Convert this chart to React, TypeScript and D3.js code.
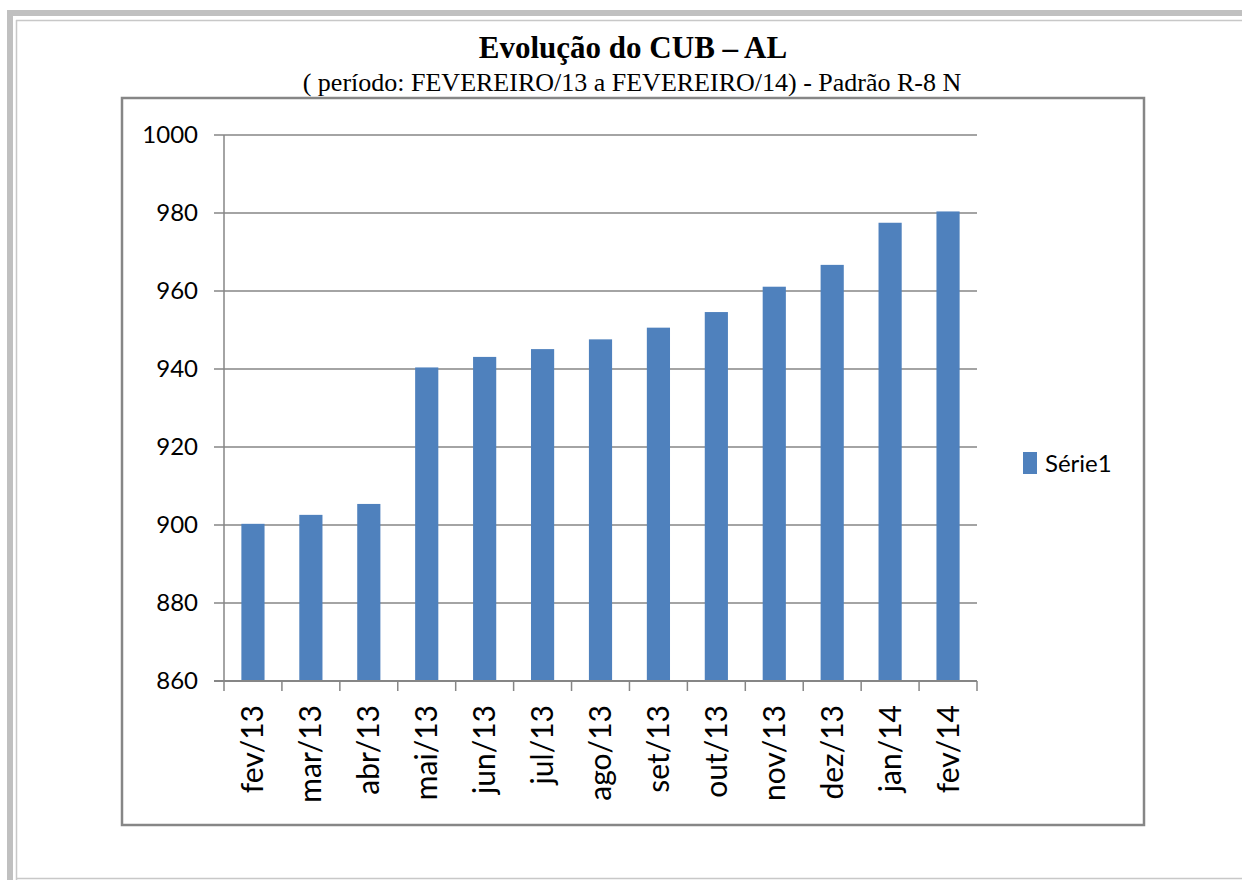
import { useEffect, useRef } from "react";
import * as d3 from "d3";

const categories = ["fev/13", "mar/13", "abr/13", "mai/13", "jun/13", "jul/13", "ago/13", "set/13", "out/13", "nov/13", "dez/13", "jan/14", "fev/14"];
const values = [900.3, 902.6, 905.4, 940.4, 943.1, 945.1, 947.6, 950.6, 954.6, 961.1, 966.7, 977.5, 980.4];
const yTicks = [860, 880, 900, 920, 940, 960, 980, 1000];
const seriesName = "Série1";

const App = () => {
  const ref = useRef<SVGSVGElement>(null);

  useEffect(() => {
    const width = 1242, height = 880;
    const svg = d3.select(ref.current)
      .html("")
      .attr("width", width)
      .attr("height", height);

    svg.append("rect").attr("width", width).attr("height", height).attr("fill", "#fff");

    // page frame
    svg.append("rect").attr("x", 7).attr("y", 10).attr("width", width - 7).attr("height", 6).attr("fill", "#c0c0c0");
    svg.append("rect").attr("x", 7).attr("y", 10).attr("width", 6).attr("height", height - 10).attr("fill", "#c0c0c0");
    svg.append("line").attr("x1", 16).attr("y1", 20.5).attr("x2", width).attr("y2", 20.5).attr("stroke", "#c8c8c8").attr("stroke-width", 1.5);
    svg.append("line").attr("x1", 16.5).attr("y1", 20).attr("x2", 16.5).attr("y2", height).attr("stroke", "#c8c8c8").attr("stroke-width", 1.5);
    svg.append("line").attr("x1", 16).attr("y1", 878.5).attr("x2", width).attr("y2", 878.5).attr("stroke", "#c8c8c8").attr("stroke-width", 1.5);

    // title
    svg.append("text")
      .attr("x", 633).attr("y", 58)
      .attr("text-anchor", "middle")
      .style("font-family", "'Liberation Serif', 'Times New Roman', serif")
      .style("font-size", "31px")
      .style("font-weight", "bold")
      .text("Evolução do CUB – AL");
    svg.append("text")
      .attr("x", 632).attr("y", 91)
      .attr("text-anchor", "middle")
      .style("font-family", "'Liberation Serif', 'Times New Roman', serif")
      .style("font-size", "26px")
      .text("( período: FEVEREIRO/13 a FEVEREIRO/14) - Padrão R-8 N");

    // chart box
    svg.append("rect")
      .attr("x", 122).attr("y", 98)
      .attr("width", 1022).attr("height", 727)
      .attr("fill", "none")
      .attr("stroke", "#868686")
      .attr("stroke-width", 2.5);

    const left = 224, right = 977, top = 135, bottom = 681;

    const x = d3.scaleBand().domain(categories).range([left, right]);
    const y = d3.scaleLinear().domain([860, 1000]).range([bottom, top]);

    const font = "Lato, 'Open Sans', sans-serif";

    // gridlines + y ticks
    svg.append("g")
      .selectAll("line")
      .data(yTicks)
      .enter()
      .append("line")
      .attr("x1", left - 10)
      .attr("x2", right)
      .attr("y1", d => y(d))
      .attr("y2", d => y(d))
      .attr("stroke", "#868686")
      .attr("stroke-width", 1.5);

    svg.append("g")
      .selectAll("text")
      .data(yTicks)
      .enter()
      .append("text")
      .attr("x", 198)
      .attr("y", d => y(d))
      .attr("dy", "0.35em")
      .attr("text-anchor", "end")
      .style("font-family", font)
      .style("font-size", "24px")
      .text(d => d);

    // bars
    const bw = x.bandwidth() * 0.4;
    svg.append("g")
      .selectAll("rect")
      .data(values)
      .enter()
      .append("rect")
      .attr("x", (d, i) => x(categories[i])! + (x.bandwidth() - bw) / 2)
      .attr("y", d => y(d))
      .attr("width", bw)
      .attr("height", d => bottom - y(d))
      .attr("fill", "#4f81bd");

    // axes
    svg.append("line")
      .attr("x1", left).attr("x2", left)
      .attr("y1", top).attr("y2", bottom)
      .attr("stroke", "#868686").attr("stroke-width", 1.5);
    svg.append("line")
      .attr("x1", left - 10).attr("x2", right)
      .attr("y1", bottom).attr("y2", bottom)
      .attr("stroke", "#868686").attr("stroke-width", 2);

    const xTicks = categories.map(c => x(c)!).concat([right]);
    svg.append("g")
      .selectAll("line")
      .data(xTicks)
      .enter()
      .append("line")
      .attr("x1", d => d).attr("x2", d => d)
      .attr("y1", bottom).attr("y2", bottom + 10)
      .attr("stroke", "#868686")
      .attr("stroke-width", 1.5);

    svg.append("g")
      .selectAll("text")
      .data(categories)
      .enter()
      .append("text")
      .attr("transform", d => `translate(${x(d)! + x.bandwidth() / 2}, 705) rotate(-90)`)
      .attr("dy", "0.35em")
      .attr("text-anchor", "end")
      .style("font-family", font)
      .style("font-size", "30px")
      .text(d => d);

    // legend
    svg.append("rect")
      .attr("x", 1023).attr("y", 452)
      .attr("width", 14).attr("height", 22)
      .attr("fill", "#4f81bd");
    svg.append("text")
      .attr("x", 1045).attr("y", 472)
      .style("font-family", font)
      .style("font-size", "24px")
      .text(seriesName);
  }, []);

  return <svg ref={ref} style={{ position: "absolute", left: 0, top: 0 }}></svg>;
};

export default App;
